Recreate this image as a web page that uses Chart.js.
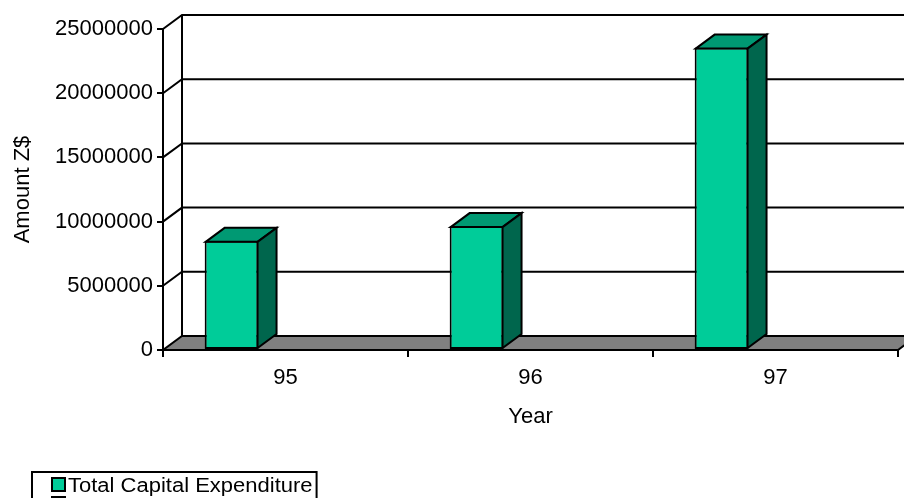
<!DOCTYPE html>
<html>
<head>
<meta charset="utf-8">
<script src="https://cdn.jsdelivr.net/npm/chart.js@4.4.1/dist/chart.umd.min.js"></script>
<style>
  html, body { margin: 0; padding: 0; background: #ffffff; }
  canvas { display: block; }
</style>
</head>
<body>
<canvas id="chart" width="904" height="498"></canvas>
<script>
// Capital expenditure per financial year (Z$)
const years = ['95', '96', '97'];
const capitalExpenditure = [8500000, 9650000, 23550000];
const otherSeries = [null, null, null];
const seriesNames = ['Total Capital Expenditure', ''];
const amountTicks = [0, 5000000, 10000000, 15000000, 20000000, 25000000];

const FONT = '"Liberation Sans", Arial, Helvetica, sans-serif';
const FRONT = '#00CC99';
const TOP = '#009973';
const SIDE = '#00664D';
const FLOOR = '#808080';
const DEPTH = { dx: 19, dy: -14 };

// Back wall, side wall, floor and gridlines of the 3D box
const box3d = {
  id: 'box3d',
  beforeDatasetsDraw(chart) {
    const { ctx, chartArea: a, scales: { y } } = chart;
    const { dx, dy } = DEPTH;
    ctx.save();
    ctx.lineWidth = 2;
    ctx.strokeStyle = '#000';
    ctx.lineJoin = 'miter';
    // floor
    ctx.beginPath();
    ctx.moveTo(a.left, a.bottom);
    ctx.lineTo(a.right, a.bottom);
    ctx.lineTo(a.right + dx, a.bottom + dy);
    ctx.lineTo(a.left + dx, a.bottom + dy);
    ctx.closePath();
    ctx.fillStyle = FLOOR;
    ctx.fill();
    ctx.stroke();
    // gridlines along the side wall and back wall
    ctx.beginPath();
    y.ticks.forEach(t => {
      if (t.value === 0) return;
      const py = y.getPixelForValue(t.value);
      ctx.moveTo(a.left, py);
      ctx.lineTo(a.left + dx, py + dy);
      ctx.lineTo(a.right + dx, py + dy);
    });
    ctx.moveTo(a.left + dx, a.top + dy);
    ctx.lineTo(a.left + dx, a.bottom + dy);
    ctx.moveTo(a.right + dx, a.top + dy);
    ctx.lineTo(a.right + dx, a.bottom + dy);
    ctx.stroke();
    ctx.restore();
  },
  // top and side faces of each bar
  afterDatasetsDraw(chart) {
    const { ctx } = chart;
    const { dx, dy } = DEPTH;
    const meta = chart.getDatasetMeta(0);
    ctx.save();
    ctx.lineWidth = 2;
    ctx.strokeStyle = '#000';
    ctx.lineJoin = 'miter';
    meta.data.forEach(bar => {
      const p = bar.getProps(['x', 'y', 'base', 'width'], true);
      const x1 = p.x - p.width / 2 + 1;
      const x2 = p.x + p.width / 2 - 1;
      const yt = p.y + 1;
      const yb = p.base - 1;
      ctx.beginPath();
      ctx.moveTo(x1, yt);
      ctx.lineTo(x1 + dx, yt + dy);
      ctx.lineTo(x2 + dx, yt + dy);
      ctx.lineTo(x2, yt);
      ctx.closePath();
      ctx.fillStyle = TOP;
      ctx.fill();
      ctx.stroke();
      ctx.beginPath();
      ctx.moveTo(x2, yt);
      ctx.lineTo(x2 + dx, yt + dy);
      ctx.lineTo(x2 + dx, yb + dy);
      ctx.lineTo(x2, yb);
      ctx.closePath();
      ctx.fillStyle = SIDE;
      ctx.fill();
      ctx.stroke();
    });
    ctx.restore();
  }
};

// Boxed legend under the chart
const boxedLegend = {
  id: 'boxedLegend',
  afterDraw(chart) {
    const { ctx } = chart;
    const left = 32, top = 472, rowH = 19, sw = 13, stretch = 1.1;
    ctx.save();
    ctx.font = '20px ' + FONT;
    const textW = stretch * Math.max(...chart.data.datasets.map(d => ctx.measureText(d.label).width));
    const width = 36 + textW + 4;
    ctx.lineWidth = 2;
    ctx.strokeStyle = '#000';
    ctx.strokeRect(left, top, width, rowH * chart.data.datasets.length + 10);
    ctx.textBaseline = 'alphabetic';
    ctx.textAlign = 'left';
    chart.data.datasets.forEach((d, i) => {
      const sy = top + 6 + i * rowH;
      ctx.fillStyle = d.legendColor;
      ctx.fillRect(left + 20, sy, sw, sw);
      ctx.lineWidth = 2;
      ctx.strokeRect(left + 20, sy, sw, sw);
      ctx.fillStyle = '#000';
      ctx.save();
      ctx.translate(left + 36, sy + 14);
      ctx.scale(stretch, 1);
      ctx.fillText(d.label, 0, 0);
      ctx.restore();
    });
    ctx.restore();
  }
};

new Chart(document.getElementById('chart'), {
  type: 'bar',
  data: {
    labels: years,
    datasets: [
      {
        label: seriesNames[0],
        data: capitalExpenditure,
        backgroundColor: FRONT,
        legendColor: FRONT,
        borderColor: '#000',
        borderWidth: 2,
        borderSkipped: false
      },
      {
        label: seriesNames[1],
        data: otherSeries,
        backgroundColor: '#ffffff',
        legendColor: '#ffffff',
        borderColor: '#000',
        borderWidth: 2
      }
    ]
  },
  options: {
    responsive: false,
    devicePixelRatio: 1,
    animation: false,
    barPercentage: 0.5,
    categoryPercentage: 0.88,
    layout: { padding: { top: 29, right: 6, bottom: 67, left: 0 } },
    plugins: {
      legend: { display: false },
      tooltip: { enabled: false }
    },
    scales: {
      x: {
        afterFit(s) { s.height = 81; },
        grid: { display: true, drawOnChartArea: false, drawTicks: true, tickLength: 7, color: '#000', lineWidth: 2, offset: true },
        border: { display: true, color: '#000', width: 2 },
        ticks: { color: '#000', padding: 8, font: { family: FONT, size: 22 } },
        title: { display: true, text: 'Year', color: '#000', padding: { top: 0, bottom: 1 }, font: { family: FONT, size: 22 } }
      },
      y: {
        min: 0,
        max: 25000000,
        afterFit(s) { s.width = 163; },
        afterBuildTicks(s) { s.ticks = amountTicks.map(v => ({ value: v })); },
        grid: { display: true, drawOnChartArea: false, drawTicks: true, tickLength: 6, color: '#000', lineWidth: 2 },
        border: { display: true, color: '#000', width: 2 },
        ticks: { color: '#000', padding: 4, font: { family: FONT, size: 22 }, callback: v => String(v) },
        title: { display: true, text: 'Amount Z$', color: '#000', padding: { top: 10, bottom: 0 }, font: { family: FONT, size: 22 } }
      }
    }
  },
  plugins: [box3d, boxedLegend]
});
</script>
</body>
</html>
